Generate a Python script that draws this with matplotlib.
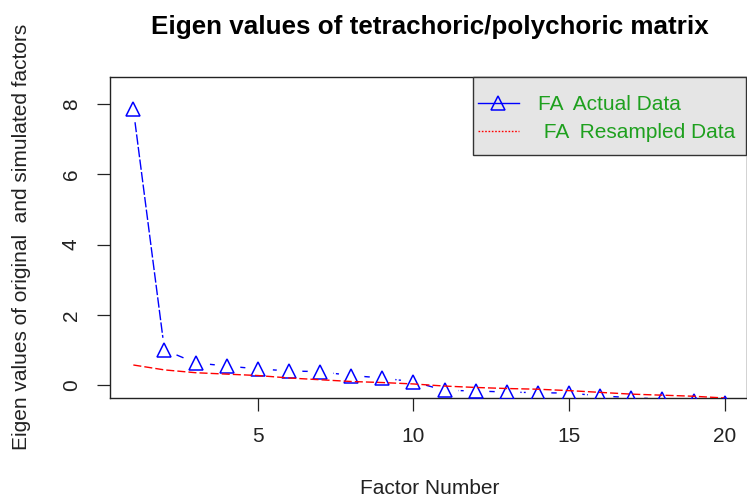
import matplotlib.pyplot as plt
from matplotlib.lines import Line2D
from matplotlib.patches import Rectangle

plt.rcParams['font.family'] = ['Liberation Sans', 'DejaVu Sans']

# Eigen values per factor
factors = list(range(1, 21))
actual = [7.85, 1.0, 0.63, 0.54, 0.46, 0.40, 0.38, 0.27, 0.20, 0.09,
          -0.15, -0.17, -0.20, -0.22, -0.23, -0.31, -0.36, -0.40, -0.45, -0.50]
resampled = [0.57, 0.43, 0.35, 0.31, 0.27, 0.20, 0.15, 0.10, 0.07, 0.03,
             -0.03, -0.07, -0.10, -0.12, -0.16, -0.21, -0.26, -0.29, -0.32, -0.37]
xticks = [5, 10, 15, 20]
yticks = [0, 2, 4, 6, 8]
labels = ['FA  Actual Data', ' FA  Resampled Data']

W, H = 747, 499
fig = plt.figure(figsize=(W / 100, H / 100), dpi=100)
ax = fig.add_axes([110 / W, 101 / H, 636.5 / W, 321 / H])

blue = '#0000ff'
red = '#ff0000'
green = '#1ea01e'

# actual data: line with gaps around the points (type = "b")
ax.plot(factors, actual, color=blue, lw=1.0, dashes=(7.5, 1.6), zorder=2)
ax.plot(factors, actual, linestyle='none', marker='o', ms=18.5,
        mfc='white', mec='none', zorder=2.1)
ax.plot(factors, actual, linestyle='none', marker='^', ms=9.5,
        mfc='none', mec=blue, mew=1.1, zorder=3)
# resampled data
ax.plot(factors, resampled, color=red, lw=1.0, dashes=(5.8, 2.2), zorder=3.2)

ax.set_xlim(0.25, 20.7)
ax.set_ylim(-0.37, 8.77)
ax.set_xticks(xticks)
ax.set_yticks(yticks)
ax.tick_params(length=9.1, width=0.9, pad=12, labelsize=15, colors='#222222')
ax.tick_params(axis='y', labelrotation=90)
for lab in ax.get_yticklabels():
    lab.set_va('center')
for s in ax.spines.values():
    s.set_color('#222222')
    s.set_linewidth(1.0)

# legend box in the top right corner (pixel layout)
def fx(px):
    return px / W

def fy(py):
    return 1 - py / H

fig.patches.append(Rectangle((fx(473), fy(155)), fx(746) - fx(473), fy(77) - fy(155),
                             transform=fig.transFigure, facecolor='#e5e5e5',
                             edgecolor='#333333', lw=1.0, zorder=5))
fig.lines.append(Line2D([fx(478), fx(519)], [fy(103), fy(103)], color=blue, lw=1.0,
                        transform=fig.transFigure, zorder=6))
fig.lines.append(Line2D([fx(498)], [fy(103)], marker='^', ms=9.5, mfc='none', mec=blue,
                        mew=1.1, transform=fig.transFigure, zorder=6))
fig.lines.append(Line2D([fx(478), fx(519)], [fy(131), fy(131)], color=red, lw=1.0,
                        linestyle=(0, (1.2, 1.2)), transform=fig.transFigure, zorder=6))
for row_y, lab in zip([105, 133], labels):
    fig.text(fx(538), fy(row_y), lab, ha='left', va='center', fontsize=15,
             color=green, zorder=7)

fig.text(430 / W, 1 - 27 / H, 'Eigen values of tetrachoric/polychoric matrix',
         ha='center', va='center', fontsize=18.7, fontweight='bold')
fig.text(430 / W, 1 - 489 / H, 'Factor Number', ha='center', va='center',
         fontsize=15, color='#222222')
fig.text(22 / W, 1 - 237 / H, 'Eigen values of original  and simulated factors',
         ha='center', va='center', rotation=90, fontsize=15, color='#222222')

fig.savefig('out.png', dpi=100)
